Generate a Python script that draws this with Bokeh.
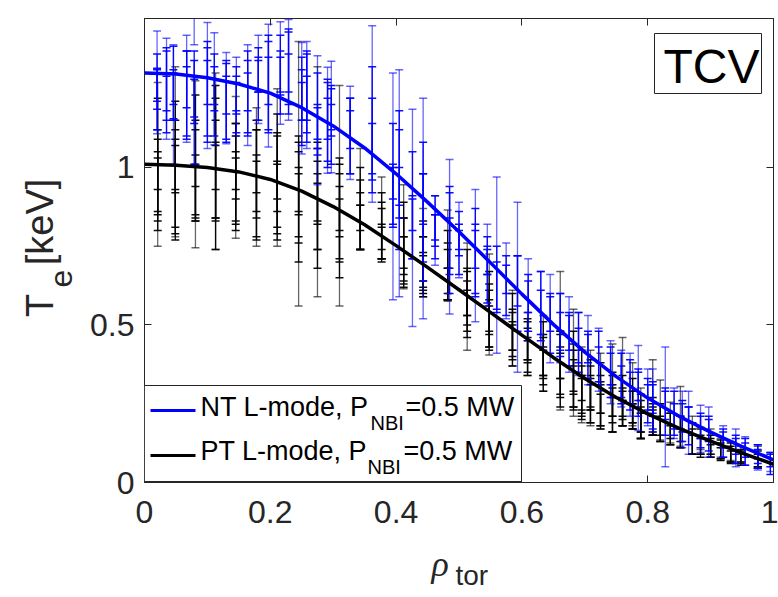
import math
from bokeh.plotting import figure
from bokeh.layouts import row, column
from bokeh.models import (Range1d, FixedTicker, LinearAxis, Label, BoxAnnotation,
                          ColumnDataSource, CustomLabelingPolicy)
from bokeh.embed import file_html
from bokeh.resources import INLINE

# ---------------- data ----------------
fit_rho = [0.00, 0.05, 0.10, 0.15, 0.20, 0.25, 0.30, 0.35, 0.40, 0.45, 0.50,
           0.55, 0.60, 0.65, 0.70, 0.75, 0.80, 0.85, 0.90, 0.95, 1.00]
nt_fit_te = [1.300, 1.297, 1.285, 1.265, 1.236, 1.190, 1.132, 1.062, 0.980, 0.890, 0.796,
             0.698, 0.598, 0.502, 0.414, 0.336, 0.268, 0.210, 0.160, 0.114, 0.072]
pt_fit_te = [1.010, 1.007, 1.000, 0.986, 0.962, 0.925, 0.876, 0.818, 0.752, 0.683, 0.612,
             0.540, 0.468, 0.397, 0.330, 0.270, 0.218, 0.172, 0.131, 0.093, 0.058]

nt_rho = [0.020, 0.035, 0.046, 0.067, 0.079, 0.100, 0.111, 0.130, 0.146, 0.164,
          0.181, 0.197, 0.216, 0.229, 0.250, 0.258, 0.275, 0.291, 0.297, 0.327,
          0.362, 0.395, 0.405, 0.426, 0.443, 0.462, 0.485, 0.500, 0.526, 0.545,
          0.560, 0.575, 0.593, 0.610, 0.630, 0.645, 0.661, 0.675, 0.690, 0.705,
          0.722, 0.741, 0.758, 0.772, 0.785, 0.800, 0.808, 0.828, 0.842, 0.855,
          0.865, 0.884, 0.897, 0.920, 0.940, 0.955, 0.975, 0.995]
nt_te = [[1.27, 1.25, 1.24, 1.26], [1.25, 1.28, 1.22, 1.24], [1.20, 1.27, 1.23, 1.25],
         [1.25, 1.28, 1.21, 1.23], [1.52, 1.19, 1.24, 1.22], [1.26, 1.29, 1.22, 1.24],
         [1.25, 1.28, 1.21, 1.23], [1.22, 1.25, 1.19, 1.21], [1.225, 1.20, 1.25, 1.22],
         [1.23, 1.26, 1.20, 1.24], [1.28, 1.31, 1.25, 1.29], [1.26, 1.30, 1.23, 1.27],
         [1.30, 1.33, 1.27, 1.29], [1.31, 1.34, 1.28, 1.30], [1.22, 1.25, 1.19, 1.21],
         [1.23, 1.20, 1.26, 1.22], [1.15, 1.18, 1.12, 1.14], [1.15, 1.12, 1.18, 1.14],
         [1.16, 1.13, 1.19, 1.15], [1.11, 1.08, 1.14, 1.10], [1.17, 1.10, 1.05, 1.12],
         [0.94, 0.98, 0.91, 0.95], [0.95, 1.00, 0.92, 0.96], [0.84, 0.88, 0.81, 0.85],
         [0.87, 0.84, 0.90, 0.86], [0.80, 0.78, 0.83, 0.81], [0.78, 0.80, 0.75, 0.77],
         [0.77, 0.74, 0.80, 0.76], [0.72, 0.70, 0.75, 0.73], [0.69, 0.66, 0.72, 0.70],
         [0.69, 0.65, 0.62], [0.64, 0.61, 0.66], [0.62, 0.60, 0.64], [0.58, 0.56, 0.60],
         [0.55, 0.53, 0.57], [0.52, 0.50, 0.54], [0.49, 0.47, 0.51], [0.47, 0.45, 0.48],
         [0.44, 0.42, 0.46], [0.42, 0.40, 0.43], [0.39, 0.37, 0.40], [0.35, 0.34, 0.37],
         [0.33, 0.31, 0.34], [0.31, 0.29, 0.32], [0.30, 0.28, 0.31], [0.27, 0.25, 0.28],
         [0.26, 0.24, 0.27], [0.24, 0.22, 0.25], [0.22, 0.20, 0.23], [0.20, 0.19, 0.21],
         [0.19, 0.18, 0.20], [0.17, 0.16, 0.18], [0.16, 0.15, 0.17], [0.13, 0.12, 0.14],
         [0.11, 0.10, 0.12], [0.10, 0.09, 0.11], [0.08, 0.075, 0.09], [0.065, 0.06, 0.07]]
nt_err = [[0.163, 0.065, 0.12, 0.05], [0.16, 0.10, 0.07, 0.13], [0.19, 0.115, 0.08, 0.05],
          [0.17, 0.09, 0.11, 0.14], [0.13, 0.18, 0.10, 0.06], [0.20, 0.09, 0.12, 0.16],
          [0.178, 0.08, 0.11, 0.05], [0.145, 0.08, 0.10, 0.13], [0.125, 0.09, 0.07, 0.05],
          [0.16, 0.08, 0.10, 0.13], [0.14, 0.07, 0.10, 0.05], [0.195, 0.10, 0.12, 0.15],
          [0.163, 0.09, 0.10, 0.06], [0.16, 0.10, 0.08, 0.13], [0.177, 0.10, 0.12, 0.06],
          [0.17, 0.09, 0.11, 0.14], [0.205, 0.12, 0.08, 0.05], [0.168, 0.10, 0.09, 0.14],
          [0.177, 0.12, 0.07, 0.05], [0.148, 0.10, 0.08, 0.12], [0.28, 0.12, 0.09, 0.20],
          [0.36, 0.16, 0.10, 0.05], [0.36, 0.12, 0.08, 0.22], [0.345, 0.17, 0.10, 0.05],
          [0.35, 0.14, 0.08, 0.22], [0.11, 0.07, 0.08, 0.04], [0.245, 0.12, 0.09, 0.17],
          [0.12, 0.08, 0.06, 0.04], [0.21, 0.10, 0.07, 0.14], [0.13, 0.09, 0.06, 0.04],
          [0.28, 0.10, 0.08], [0.12, 0.08, 0.06], [0.27, 0.12, 0.08], [0.13, 0.08, 0.06],
          [0.12, 0.08, 0.10], [0.14, 0.09, 0.06], [0.11, 0.07, 0.09], [0.12, 0.08, 0.06],
          [0.10, 0.07, 0.08], [0.11, 0.07, 0.05], [0.10, 0.06, 0.08], [0.10, 0.07, 0.06],
          [0.09, 0.06, 0.07], [0.10, 0.06, 0.07], [0.135, 0.07, 0.05], [0.09, 0.06, 0.05],
          [0.10, 0.07, 0.05], [0.19, 0.07, 0.05], [0.08, 0.05, 0.06], [0.09, 0.06, 0.05],
          [0.10, 0.06, 0.04], [0.075, 0.05, 0.04], [0.08, 0.05, 0.04], [0.05, 0.04, 0.03],
          [0.06, 0.04, 0.03], [0.045, 0.035, 0.03], [0.04, 0.03, 0.03], [0.03, 0.035, 0.02]]

pt_rho = [0.021, 0.049, 0.081, 0.113, 0.145, 0.178, 0.211, 0.245, 0.275, 0.310,
          0.343, 0.377, 0.412, 0.443, 0.482, 0.513, 0.548, 0.585, 0.609, 0.634,
          0.661, 0.682, 0.695, 0.709, 0.725, 0.744, 0.760, 0.776, 0.789, 0.808,
          0.820, 0.836, 0.852, 0.871, 0.884, 0.900, 0.916, 0.932, 0.948, 0.975]
pt_te = [[1.01, 0.97, 1.04, 0.93, 0.99, 0.96], [1.05, 0.99, 1.02, 0.95, 1.00, 0.97],
         [1.01, 0.98, 1.03, 0.92, 0.99, 1.00], [1.02, 0.99, 0.96, 1.05, 1.00, 0.98],
         [1.00, 0.97, 1.02, 0.93, 0.99, 0.96], [0.97, 0.99, 0.95, 0.93, 0.98, 0.96],
         [1.00, 0.95, 0.98, 0.91, 0.96, 0.97], [0.98, 0.93, 0.88, 0.95, 0.92, 0.90],
         [0.955, 0.90, 0.86, 0.92, 0.89, 0.88], [0.91, 0.86, 0.82, 0.88, 0.85, 0.84],
         [0.90, 0.85, 0.81, 0.87, 0.84, 0.83], [0.84, 0.79, 0.76, 0.81, 0.78, 0.80],
         [0.78, 0.74, 0.70, 0.76, 0.73, 0.75], [0.73, 0.69, 0.66, 0.72, 0.68, 0.70],
         [0.72, 0.66, 0.63, 0.69, 0.64, 0.67], [0.59, 0.62, 0.55, 0.60, 0.57, 0.58],
         [0.565, 0.53, 0.50, 0.55, 0.52, 0.54], [0.49, 0.47, 0.44, 0.50, 0.46, 0.48],
         [0.44, 0.43, 0.40, 0.45, 0.42, 0.44], [0.41, 0.39, 0.36, 0.42, 0.38, 0.40],
         [0.45, 0.38, 0.35, 0.40, 0.37, 0.36], [0.38, 0.34, 0.31, 0.36, 0.33, 0.35],
         [0.31, 0.29, 0.27, 0.32, 0.30, 0.28], [0.30, 0.28, 0.26, 0.31, 0.27, 0.29],
         [0.29, 0.26, 0.24, 0.28, 0.25, 0.27], [0.30, 0.25, 0.23, 0.27, 0.24, 0.26],
         [0.32, 0.26, 0.22, 0.24, 0.23, 0.25], [0.28, 0.23, 0.21, 0.25, 0.22, 0.24],
         [0.22, 0.20, 0.18, 0.21, 0.19, 0.20], [0.27, 0.21, 0.19, 0.20, 0.18, 0.20],
         [0.23, 0.19, 0.17, 0.20], [0.19, 0.17, 0.15, 0.18], [0.21, 0.16, 0.14, 0.17],
         [0.15, 0.13, 0.12, 0.14], [0.14, 0.12, 0.11, 0.13], [0.13, 0.11, 0.10, 0.12],
         [0.11, 0.10, 0.09, 0.105], [0.10, 0.09, 0.08, 0.095], [0.09, 0.08, 0.075, 0.085],
         [0.08, 0.07, 0.06, 0.075]]
pt_err = [[0.26, 0.12, 0.18, 0.10, 0.06, 0.16], [0.27, 0.22, 0.10, 0.14, 0.07, 0.18],
          [0.265, 0.14, 0.20, 0.09, 0.05, 0.15], [0.28, 0.16, 0.12, 0.21, 0.07, 0.24],
          [0.225, 0.17, 0.12, 0.10, 0.06, 0.14], [0.22, 0.13, 0.17, 0.09, 0.06, 0.19],
          [0.25, 0.16, 0.12, 0.10, 0.06, 0.20], [0.42, 0.15, 0.12, 0.10, 0.06, 0.20],
          [0.365, 0.16, 0.12, 0.10, 0.06, 0.20], [0.35, 0.15, 0.12, 0.10, 0.05, 0.19],
          [0.16, 0.11, 0.07, 0.13, 0.04, 0.09], [0.13, 0.08, 0.05, 0.11, 0.04, 0.09],
          [0.165, 0.10, 0.08, 0.13, 0.05, 0.09], [0.14, 0.09, 0.07, 0.11, 0.04, 0.08],
          [0.145, 0.08, 0.05, 0.11, 0.04, 0.09], [0.17, 0.12, 0.09, 0.07, 0.04, 0.10],
          [0.16, 0.10, 0.08, 0.12, 0.04, 0.07], [0.12, 0.08, 0.07, 0.10, 0.04, 0.06],
          [0.10, 0.08, 0.06, 0.07, 0.03, 0.05], [0.12, 0.08, 0.07, 0.09, 0.04, 0.06],
          [0.22, 0.10, 0.08, 0.07, 0.04, 0.12], [0.17, 0.10, 0.08, 0.12, 0.04, 0.07],
          [0.12, 0.08, 0.07, 0.10, 0.04, 0.05], [0.12, 0.09, 0.07, 0.08, 0.04, 0.05],
          [0.12, 0.08, 0.07, 0.10, 0.03, 0.05], [0.14, 0.09, 0.07, 0.08, 0.03, 0.05],
          [0.14, 0.08, 0.04, 0.06, 0.03, 0.04], [0.10, 0.06, 0.04, 0.08, 0.03, 0.05],
          [0.08, 0.06, 0.04, 0.07, 0.03, 0.04], [0.12, 0.06, 0.04, 0.05, 0.03, 0.04],
          [0.095, 0.06, 0.04, 0.05], [0.065, 0.05, 0.03, 0.04], [0.095, 0.05, 0.03, 0.04],
          [0.06, 0.04, 0.03, 0.05], [0.035, 0.03, 0.03, 0.04], [0.04, 0.03, 0.02, 0.03],
          [0.03, 0.025, 0.02, 0.03], [0.03, 0.025, 0.02, 0.03], [0.025, 0.02, 0.02, 0.02],
          [0.035, 0.02, 0.015, 0.025]]

x_ticks = [0, 0.2, 0.4, 0.6, 0.8, 1]
x_tick_labels = ["0", "0.2", "0.4", "0.6", "0.8", "1"]
y_ticks = [0, 0.5, 1]
y_tick_labels = ["0", "0.5", "1"]

# ---------------- styling ----------------
FONT = "Liberation Sans"
AX = "#262626"
BL = 0.35   # baseline compensation (fraction of font size)


def blank_fig(w, h, left=0, right=0):
    f = figure(width=w, height=h, output_backend="svg", toolbar_location=None,
               x_range=Range1d(0, 1), y_range=Range1d(0, 1),
               min_border=0, min_border_left=left, min_border_right=right,
               min_border_top=0, min_border_bottom=0)
    f.axis.visible = False
    f.grid.visible = False
    f.outline_line_color = None
    f.background_fill_color = "white"
    f.border_fill_color = "white"
    return f


def lab(fig, text, x, y, size_px, color="black", font=FONT, style="normal"):
    # (x, y) = desired baseline start, frame-relative screen px (y up)
    fig.add_layout(Label(x=x, y=y + BL * size_px, x_units="screen", y_units="screen",
                         text=text, text_font=font, text_font_size=f"{size_px}px",
                         text_color=color, text_font_style=style,
                         text_align="left", text_baseline="alphabetic"))


def vlab(fig, text, cx, cy, size_px, color="black", font=FONT):
    # vertical (rotated) text centred on (cx, cy), frame-relative px (y up)
    fig.add_layout(Label(x=cx, y=cy, x_units="screen", y_units="screen", text=text,
                         text_font=font, text_font_size=f"{size_px}px", text_color=color,
                         angle=math.pi / 2, text_align="center", text_baseline="middle"))


# ---------------- main figure ----------------
p = figure(width=698, height=540, output_backend="svg", toolbar_location=None,
           x_range=Range1d(0, 1), y_range=Range1d(0, 1.473),
           min_border_left=64, min_border_right=5, min_border_top=18, min_border_bottom=58)
p.grid.visible = False
p.outline_line_color = AX
p.background_fill_color = "white"
p.border_fill_color = "white"


def style_axis(ax, ticks, labels, show_labels=True):
    ax.ticker = FixedTicker(ticks=ticks)
    ax.major_label_overrides = {t: l for t, l in zip(ticks, labels)}
    ax.major_tick_in = 7
    ax.major_tick_out = 0
    ax.minor_tick_line_color = None
    ax.axis_line_color = AX
    ax.major_tick_line_color = AX
    ax.major_label_text_font = FONT
    ax.major_label_text_color = AX
    if show_labels:
        ax.major_label_text_font_size = "32px"
    else:
        ax.major_label_text_font_size = "1px"
        ax.major_label_policy = CustomLabelingPolicy(code="return []")
        ax.major_label_standoff = 0


style_axis(p.xaxis[0], x_ticks, x_tick_labels)
p.xaxis[0].major_label_standoff = 18
style_axis(p.yaxis[0], y_ticks, y_tick_labels)
p.yaxis[0].major_label_standoff = 10

top_ax = LinearAxis()
style_axis(top_ax, x_ticks, x_tick_labels, show_labels=False)
p.add_layout(top_ax, "above")
right_ax = LinearAxis()
style_axis(right_ax, y_ticks, y_tick_labels, show_labels=False)
p.add_layout(right_ax, "right")


def flatten(rhos, tes, errs):
    xs, lo, hi, alpha = [], [], [], []
    for r, tl, el in zip(rhos, tes, errs):
        for k, (t, e) in enumerate(zip(tl, el)):
            xs.append(r)
            lo.append(t - e)
            hi.append(t + e)
            alpha.append(0.6 if k == 0 else 0.95)
    return ColumnDataSource(dict(x=xs, lo=lo, hi=hi, alpha=alpha))


def draw_errorbars(src, color):
    p.segment(x0="x", y0="lo", x1="x", y1="hi", source=src, line_color=color,
              line_alpha="alpha", line_width=1.3)
    p.scatter(x="x", y="hi", source=src, marker="dash", size=8, line_color=color,
              line_alpha="alpha", line_width=1.5)
    p.scatter(x="x", y="lo", source=src, marker="dash", size=8, line_color=color,
              line_alpha="alpha", line_width=1.5)


draw_errorbars(flatten(pt_rho, pt_te, pt_err), "black")
draw_errorbars(flatten(nt_rho, nt_te, nt_err), "#0000ff")

p.line(fit_rho, pt_fit_te, line_color="black", line_width=3.5)
p.line(fit_rho, nt_fit_te, line_color="#0000ff", line_width=3.5)


def sbox(fig, l, r, b, t, fill, line=None):
    fig.add_layout(BoxAnnotation(left=l, right=r, bottom=b, top=t,
                                 left_units="screen", right_units="screen",
                                 bottom_units="screen", top_units="screen",
                                 fill_color=fill, fill_alpha=1.0,
                                 line_color=line, line_alpha=1.0, line_width=1))


# legend (frame-relative px)
sbox(p, 0, 377, 1, 97, "white", AX)
sbox(p, 6, 51, 70.5, 73.5, "#0000ff")
sbox(p, 6, 51, 25.5, 28.5, "black")
lab(p, "NT L-mode, P", 56, 66, 27)
lab(p, "NBI", 226, 53, 20)
lab(p, "=0.5 MW", 261, 66, 27)
lab(p, "PT L-mode, P", 56, 22, 27)
lab(p, "NBI", 223, 9, 20)
lab(p, "=0.5 MW", 259, 22, 27)

# TCV box
sbox(p, 510, 617, 389, 449, "white", AX)
lab(p, "TCV", 519, 399, 48)

# ---------------- y label figure (left strip) ----------------
pl = blank_fig(80, 597)
vlab(pl, "T", 39.7, 292, 38, color=AX)
vlab(pl, "e", 60.8, 319, 32, color=AX)
vlab(pl, "[keV]", 39.7, 375.5, 38, color=AX)

# ---------------- x label figure (bottom strip, frame aligned with main frame) ----------------
pb = blank_fig(698, 57, left=64, right=5)
lab(pb, "\u03c1", 287, 21, 36, color=AX, font="Liberation Serif", style="italic")
lab(pb, "tor", 311, 12, 28, color=AX)

layout = row(pl, column(p, pb))
open("out.html", "w").write(file_html(layout, INLINE))
